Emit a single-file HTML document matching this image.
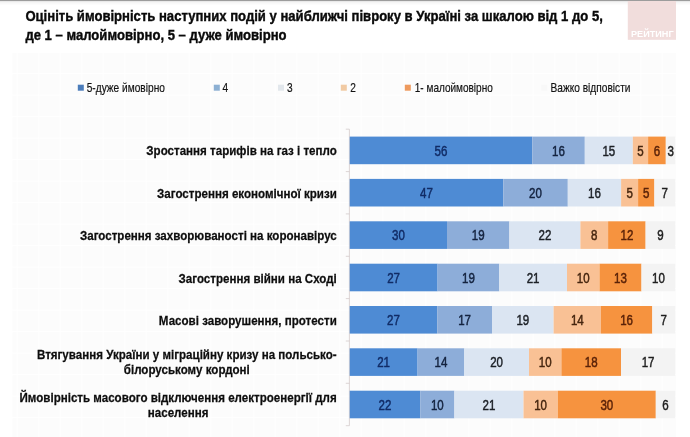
<!DOCTYPE html>
<html lang="uk"><head><meta charset="utf-8"><title>Рейтинг</title>
<style>html,body{margin:0;padding:0;background:#fff}body{width:690px;height:437px;overflow:hidden}svg{display:block;filter:blur(0.35px)}text{font-family:"Liberation Sans", Arial, sans-serif}</style>
</head><body>
<svg width="690" height="437" viewBox="0 0 690 437">
<defs><pattern id="grid" x="16.7" y="8.6" width="21.5" height="21.5" patternUnits="userSpaceOnUse"><rect width="21.5" height="21.5" fill="#fcfcfc"/><rect width="1.2" height="21.5" fill="#ffffff"/><rect width="21.5" height="1.2" fill="#ffffff"/></pattern>
<linearGradient id="topg" x1="0" y1="0" x2="0" y2="1"><stop offset="0" stop-color="#8c8c8c"/><stop offset="0.5" stop-color="#b8b8b8"/><stop offset="1" stop-color="#ffffff"/></linearGradient></defs>
<rect width="690" height="437" fill="#ffffff"/>
<rect x="12.5" y="53" width="663.5" height="384" fill="url(#grid)"/>
<rect x="0" y="0" width="690" height="1" fill="#9c9c9c"/>
<rect x="0" y="1" width="690" height="1" fill="#e9e9e9"/>
<rect x="0" y="2" width="690" height="1" fill="#f5f5f5"/>
<rect x="0" y="3" width="690" height="1" fill="#f9f9f9"/>
<rect x="0" y="4" width="690" height="1" fill="#fcfcfc"/>
<rect x="627.8" y="1" width="48.2" height="38.8" fill="#F1DDDC"/>
<text x="631" y="37.3" font-size="8.6" font-weight="bold" fill="#ffffff" textLength="42.6" lengthAdjust="spacingAndGlyphs">РЕЙТИНГ</text>
<g font-size="15.2" font-weight="bold" fill="#0a0a0a" stroke="#0a0a0a" stroke-width="0.4">
<text transform="translate(25.4 20.8) scale(0.8615 1)">Оцініть ймовірність наступних подій у найближчі півроку в Україні за шкалою від 1 до 5,</text>
<text transform="translate(25.4 39.8) scale(0.8615 1)">де 1 – малоймовірно, 5 – дуже ймовірно</text>
</g>
<g font-size="12" fill="#111111" stroke="#111111" stroke-width="0.18">
<rect x="77.8" y="84.7" width="6" height="6" fill="#4C7DBB" stroke="none"/>
<text transform="translate(86.7 91.5) scale(0.846 1)">5-дуже ймовірно</text>
<rect x="213.8" y="84.7" width="6" height="6" fill="#8DB0D3" stroke="none"/>
<text transform="translate(222.5 91.5) scale(0.846 1)">4</text>
<rect x="278.0" y="84.7" width="6" height="6" fill="#E2E7EC" stroke="none"/>
<text transform="translate(287 91.5) scale(0.846 1)">3</text>
<rect x="340.8" y="84.7" width="6" height="6" fill="#F1CAA3" stroke="none"/>
<text transform="translate(350.3 91.5) scale(0.846 1)">2</text>
<rect x="404.8" y="84.7" width="6" height="6" fill="#EE9A5E" stroke="none"/>
<text transform="translate(414.8 91.5) scale(0.836 1)">1- малоймовірно</text>
<rect x="541.3" y="84.7" width="6" height="6" fill="#F8F8F8" stroke="none"/>
<text transform="translate(550.5 91.5) scale(0.846 1)">Важко відповісти</text>
</g>
<g stroke="#d4cccc" stroke-width="0.8" fill="none">
<path d="M349.4 129.2V425.7"/>
<path d="M345.8 129.2H349.4"/>
<path d="M345.8 171.6H349.4"/>
<path d="M345.8 213.9H349.4"/>
<path d="M345.8 256.3H349.4"/>
<path d="M345.8 298.6H349.4"/>
<path d="M345.8 341.0H349.4"/>
<path d="M345.8 383.3H349.4"/>
<path d="M345.8 425.7H349.4"/>
</g>
<g>
<rect x="349.7" y="136.6" width="182.6" height="27.6" fill="#4E8BD4"/>
<rect x="532.3" y="136.6" width="52.5" height="27.6" fill="#8DADD9"/>
<rect x="584.8" y="136.6" width="48.0" height="27.6" fill="#DBE5F2"/>
<rect x="632.8" y="136.6" width="15.3" height="27.6" fill="#F9C195"/>
<rect x="648.1" y="136.6" width="17.7" height="27.6" fill="#F6933F"/>
<rect x="665.8" y="136.6" width="9.4" height="27.6" fill="#F3F3F3"/>
</g>
<g font-size="14.6" text-anchor="middle">
<text transform="translate(441.0 155.5) scale(0.79 1)" fill="#112c66" stroke="#112c66" stroke-width="0.5">56</text>
<text transform="translate(558.5 155.5) scale(0.79 1)" fill="#14233f" stroke="#14233f" stroke-width="0.5">16</text>
<text transform="translate(608.8 155.5) scale(0.79 1)" fill="#1c2026" stroke="#1c2026" stroke-width="0.5">15</text>
<text transform="translate(640.5 155.5) scale(0.79 1)" fill="#46260f" stroke="#46260f" stroke-width="0.5">5</text>
<text transform="translate(657.0 155.5) scale(0.79 1)" fill="#5a2208" stroke="#5a2208" stroke-width="0.5">6</text>
<text transform="translate(670.6 155.5) scale(0.79 1)" fill="#1e1e1e" stroke="#1e1e1e" stroke-width="0.5">3</text>
</g>
<g font-size="13.4" font-weight="bold" fill="#0d0d0d" stroke="#0d0d0d" stroke-width="0.25">
<text text-anchor="end" transform="translate(336.8 155.4) scale(0.864 1)">Зростання тарифів на газ і тепло</text>
</g>
<g>
<rect x="349.7" y="178.9" width="153.6" height="27.6" fill="#4E8BD4"/>
<rect x="503.3" y="178.9" width="64.5" height="27.6" fill="#8DADD9"/>
<rect x="567.8" y="178.9" width="53.3" height="27.6" fill="#DBE5F2"/>
<rect x="621.1" y="178.9" width="17.0" height="27.6" fill="#F9C195"/>
<rect x="638.1" y="178.9" width="16.3" height="27.6" fill="#F6933F"/>
<rect x="654.4" y="178.9" width="20.8" height="27.6" fill="#F3F3F3"/>
</g>
<g font-size="14.6" text-anchor="middle">
<text transform="translate(426.5 197.8) scale(0.79 1)" fill="#112c66" stroke="#112c66" stroke-width="0.5">47</text>
<text transform="translate(535.5 197.8) scale(0.79 1)" fill="#14233f" stroke="#14233f" stroke-width="0.5">20</text>
<text transform="translate(594.5 197.8) scale(0.79 1)" fill="#1c2026" stroke="#1c2026" stroke-width="0.5">16</text>
<text transform="translate(629.6 197.8) scale(0.79 1)" fill="#46260f" stroke="#46260f" stroke-width="0.5">5</text>
<text transform="translate(646.2 197.8) scale(0.79 1)" fill="#5a2208" stroke="#5a2208" stroke-width="0.5">5</text>
<text transform="translate(664.8 197.8) scale(0.79 1)" fill="#1e1e1e" stroke="#1e1e1e" stroke-width="0.5">7</text>
</g>
<g font-size="13.4" font-weight="bold" fill="#0d0d0d" stroke="#0d0d0d" stroke-width="0.25">
<text text-anchor="end" transform="translate(336.8 197.8) scale(0.864 1)">Загострення економічної кризи</text>
</g>
<g>
<rect x="349.7" y="221.3" width="97.3" height="27.6" fill="#4E8BD4"/>
<rect x="447.0" y="221.3" width="62.4" height="27.6" fill="#8DADD9"/>
<rect x="509.4" y="221.3" width="71.0" height="27.6" fill="#DBE5F2"/>
<rect x="580.4" y="221.3" width="27.7" height="27.6" fill="#F9C195"/>
<rect x="608.1" y="221.3" width="37.5" height="27.6" fill="#F6933F"/>
<rect x="645.6" y="221.3" width="29.6" height="27.6" fill="#F3F3F3"/>
</g>
<g font-size="14.6" text-anchor="middle">
<text transform="translate(398.4 240.2) scale(0.79 1)" fill="#112c66" stroke="#112c66" stroke-width="0.5">30</text>
<text transform="translate(478.2 240.2) scale(0.79 1)" fill="#14233f" stroke="#14233f" stroke-width="0.5">19</text>
<text transform="translate(544.9 240.2) scale(0.79 1)" fill="#1c2026" stroke="#1c2026" stroke-width="0.5">22</text>
<text transform="translate(594.2 240.2) scale(0.79 1)" fill="#46260f" stroke="#46260f" stroke-width="0.5">8</text>
<text transform="translate(626.9 240.2) scale(0.79 1)" fill="#5a2208" stroke="#5a2208" stroke-width="0.5">12</text>
<text transform="translate(660.4 240.2) scale(0.79 1)" fill="#1e1e1e" stroke="#1e1e1e" stroke-width="0.5">9</text>
</g>
<g font-size="13.4" font-weight="bold" fill="#0d0d0d" stroke="#0d0d0d" stroke-width="0.25">
<text text-anchor="end" transform="translate(336.8 240.1) scale(0.864 1)">Загострення захворюваності на коронавірус</text>
</g>
<g>
<rect x="349.7" y="263.7" width="87.9" height="27.6" fill="#4E8BD4"/>
<rect x="437.6" y="263.7" width="61.7" height="27.6" fill="#8DADD9"/>
<rect x="499.3" y="263.7" width="67.7" height="27.6" fill="#DBE5F2"/>
<rect x="567.0" y="263.7" width="32.5" height="27.6" fill="#F9C195"/>
<rect x="599.5" y="263.7" width="42.0" height="27.6" fill="#F6933F"/>
<rect x="641.5" y="263.7" width="33.7" height="27.6" fill="#F3F3F3"/>
</g>
<g font-size="14.6" text-anchor="middle">
<text transform="translate(393.6 282.6) scale(0.79 1)" fill="#112c66" stroke="#112c66" stroke-width="0.5">27</text>
<text transform="translate(468.5 282.6) scale(0.79 1)" fill="#14233f" stroke="#14233f" stroke-width="0.5">19</text>
<text transform="translate(533.1 282.6) scale(0.79 1)" fill="#1c2026" stroke="#1c2026" stroke-width="0.5">21</text>
<text transform="translate(583.2 282.6) scale(0.79 1)" fill="#46260f" stroke="#46260f" stroke-width="0.5">10</text>
<text transform="translate(620.5 282.6) scale(0.79 1)" fill="#5a2208" stroke="#5a2208" stroke-width="0.5">13</text>
<text transform="translate(658.4 282.6) scale(0.79 1)" fill="#1e1e1e" stroke="#1e1e1e" stroke-width="0.5">10</text>
</g>
<g font-size="13.4" font-weight="bold" fill="#0d0d0d" stroke="#0d0d0d" stroke-width="0.25">
<text text-anchor="end" transform="translate(336.8 282.5) scale(0.864 1)">Загострення війни на Сході</text>
</g>
<g>
<rect x="349.7" y="306.0" width="87.5" height="27.6" fill="#4E8BD4"/>
<rect x="437.2" y="306.0" width="54.8" height="27.6" fill="#8DADD9"/>
<rect x="492.0" y="306.0" width="61.6" height="27.6" fill="#DBE5F2"/>
<rect x="553.6" y="306.0" width="47.4" height="27.6" fill="#F9C195"/>
<rect x="601.0" y="306.0" width="51.3" height="27.6" fill="#F6933F"/>
<rect x="652.3" y="306.0" width="22.9" height="27.6" fill="#F3F3F3"/>
</g>
<g font-size="14.6" text-anchor="middle">
<text transform="translate(393.4 324.9) scale(0.79 1)" fill="#112c66" stroke="#112c66" stroke-width="0.5">27</text>
<text transform="translate(464.6 324.9) scale(0.79 1)" fill="#14233f" stroke="#14233f" stroke-width="0.5">17</text>
<text transform="translate(522.8 324.9) scale(0.79 1)" fill="#1c2026" stroke="#1c2026" stroke-width="0.5">19</text>
<text transform="translate(577.3 324.9) scale(0.79 1)" fill="#46260f" stroke="#46260f" stroke-width="0.5">14</text>
<text transform="translate(626.6 324.9) scale(0.79 1)" fill="#5a2208" stroke="#5a2208" stroke-width="0.5">16</text>
<text transform="translate(663.8 324.9) scale(0.79 1)" fill="#1e1e1e" stroke="#1e1e1e" stroke-width="0.5">7</text>
</g>
<g font-size="13.4" font-weight="bold" fill="#0d0d0d" stroke="#0d0d0d" stroke-width="0.25">
<text text-anchor="end" transform="translate(336.8 324.8) scale(0.864 1)">Масові заворушення, протести</text>
</g>
<g>
<rect x="349.7" y="348.3" width="67.9" height="27.6" fill="#4E8BD4"/>
<rect x="417.6" y="348.3" width="46.7" height="27.6" fill="#8DADD9"/>
<rect x="464.3" y="348.3" width="64.7" height="27.6" fill="#DBE5F2"/>
<rect x="529.0" y="348.3" width="32.4" height="27.6" fill="#F9C195"/>
<rect x="561.4" y="348.3" width="59.6" height="27.6" fill="#F6933F"/>
<rect x="621.0" y="348.3" width="54.2" height="27.6" fill="#F3F3F3"/>
</g>
<g font-size="14.6" text-anchor="middle">
<text transform="translate(383.6 367.2) scale(0.79 1)" fill="#112c66" stroke="#112c66" stroke-width="0.5">21</text>
<text transform="translate(441.0 367.2) scale(0.79 1)" fill="#14233f" stroke="#14233f" stroke-width="0.5">14</text>
<text transform="translate(496.6 367.2) scale(0.79 1)" fill="#1c2026" stroke="#1c2026" stroke-width="0.5">20</text>
<text transform="translate(545.2 367.2) scale(0.79 1)" fill="#46260f" stroke="#46260f" stroke-width="0.5">10</text>
<text transform="translate(591.2 367.2) scale(0.79 1)" fill="#5a2208" stroke="#5a2208" stroke-width="0.5">18</text>
<text transform="translate(648.1 367.2) scale(0.79 1)" fill="#1e1e1e" stroke="#1e1e1e" stroke-width="0.5">17</text>
</g>
<g font-size="13.4" font-weight="bold" fill="#0d0d0d" stroke="#0d0d0d" stroke-width="0.25">
<text text-anchor="middle" transform="translate(186.8 359.2) scale(0.864 1)">Втягування України у міграційну кризу на польсько-</text>
<text text-anchor="middle" transform="translate(186.8 374.3) scale(0.864 1)">білоруському кордоні</text>
</g>
<g>
<rect x="349.7" y="390.7" width="70.5" height="27.6" fill="#4E8BD4"/>
<rect x="420.2" y="390.7" width="34.2" height="27.6" fill="#8DADD9"/>
<rect x="454.4" y="390.7" width="69.1" height="27.6" fill="#DBE5F2"/>
<rect x="523.5" y="390.7" width="34.3" height="27.6" fill="#F9C195"/>
<rect x="557.8" y="390.7" width="98.0" height="27.6" fill="#F6933F"/>
<rect x="655.8" y="390.7" width="19.4" height="27.6" fill="#F3F3F3"/>
</g>
<g font-size="14.6" text-anchor="middle">
<text transform="translate(384.9 409.6) scale(0.79 1)" fill="#112c66" stroke="#112c66" stroke-width="0.5">22</text>
<text transform="translate(437.3 409.6) scale(0.79 1)" fill="#14233f" stroke="#14233f" stroke-width="0.5">10</text>
<text transform="translate(488.9 409.6) scale(0.79 1)" fill="#1c2026" stroke="#1c2026" stroke-width="0.5">21</text>
<text transform="translate(540.6 409.6) scale(0.79 1)" fill="#46260f" stroke="#46260f" stroke-width="0.5">10</text>
<text transform="translate(606.8 409.6) scale(0.79 1)" fill="#5a2208" stroke="#5a2208" stroke-width="0.5">30</text>
<text transform="translate(665.5 409.6) scale(0.79 1)" fill="#1e1e1e" stroke="#1e1e1e" stroke-width="0.5">6</text>
</g>
<g font-size="13.4" font-weight="bold" fill="#0d0d0d" stroke="#0d0d0d" stroke-width="0.25">
<text text-anchor="middle" transform="translate(178.1 401.6) scale(0.864 1)">Ймовірність масового відключення електроенергії для</text>
<text text-anchor="middle" transform="translate(178.1 416.7) scale(0.864 1)">населення</text>
</g>
</svg>
</body></html>
